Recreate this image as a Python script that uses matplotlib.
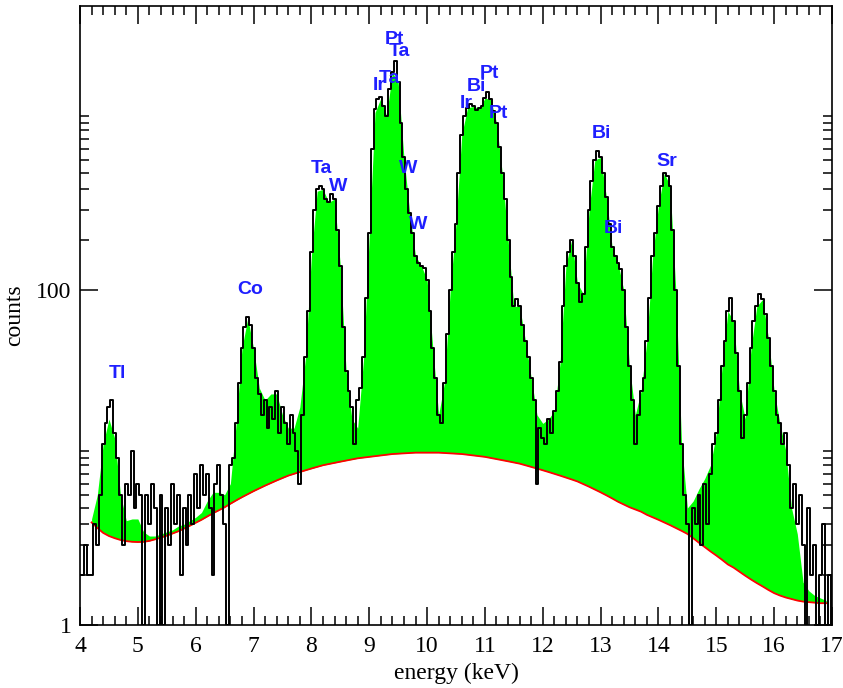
import numpy as np
import matplotlib
matplotlib.use("Agg")
import matplotlib.pyplot as plt
from matplotlib.ticker import FixedLocator, FixedFormatter, MultipleLocator

# measured spectrum, one value every 0.05 keV from 4.00 to 17.00 keV
counts = [
    2, 2, 3, 2, 2, 4, 3, 6, 12, 16, 20, 22, 14, 10, 6, 3, 7, 6, 11, 5,
    7, 6, 1, 6, 4, 7, 5, 1, 6, 1, 5, 3, 7, 4, 6, 2, 5, 3, 6, 4,
    8, 5, 9, 6, 8, 5, 2, 7, 9, 6, 4, 1, 9, 10, 16, 28, 45, 60, 69, 62,
    45, 30, 24, 18, 22, 15, 20, 17, 25, 14, 20, 16, 12, 18, 14, 11, 7, 18, 40, 75,
    170, 300, 400, 420, 400, 350, 335, 375, 350, 230, 140, 60, 33, 25, 20, 12, 22, 26, 40, 90,
    220, 700, 1200, 1380, 1420, 1250, 1100, 1600, 2000, 2330, 1750, 1000, 620, 400, 290, 220, 160, 145, 140, 135,
    115, 75, 45, 30, 18, 16, 28, 55, 100, 170, 250, 500, 850, 1100, 1230, 1290, 1250, 1190, 1220, 1260,
    1400, 1530, 1380, 1180, 1000, 720, 500, 350, 200, 120, 80, 88, 80, 62, 50, 40, 30, 22, 7, 15,
    13, 12, 17, 14, 19, 25, 37, 80, 140, 170, 200, 160, 110, 85, 95, 180, 300, 450, 600, 680,
    620, 500, 360, 250, 180, 160, 145, 134, 100, 60, 35, 22, 12, 18, 25, 30, 50, 90, 160, 220,
    320, 420, 500, 480, 420, 230, 100, 35, 12, 6, 4, 1, 5, 4, 6, 3, 7, 4, 8, 12,
    14, 22, 35, 50, 75, 90, 65, 42, 25, 13, 18, 28, 45, 65, 80, 95, 88, 72, 52, 35,
    25, 18, 16, 12, 14, 9, 5, 7, 4, 6, 3, 1, 5, 2, 3, 1, 2, 4, 1, 2,
    1,
]

# fitted model and background, one value every 0.1 keV from 4.2 to 16.9 keV
fit = [
    4.3, 6, 12, 17, 13, 6, 4.2, 4.3,
    4.3, 3.6, 3.4, 3.4, 3.5, 3.6, 3.7, 3.9, 4.0, 4.2,
    4.4, 4.7, 5.5, 6.2, 6.2, 6.0, 7, 16, 45, 68,
    45, 26, 22, 24, 24, 18, 15, 15, 20, 40,
    160, 390, 400, 335, 350, 140, 33, 17, 15, 38,
    210, 1150, 1400, 1100, 2000, 1750, 620, 290, 160, 140,
    115, 45, 18, 28, 100, 250, 850, 1230, 1250, 1220,
    1400, 1380, 1000, 500, 200, 80, 80, 50, 30, 18,
    16, 17, 19, 37, 140, 200, 110, 95, 300, 600,
    620, 360, 180, 145, 100, 35, 18, 25, 50, 160,
    320, 500, 420, 100, 12, 5, 5.5, 6.5, 7.5, 9,
    14, 35, 75, 65, 25, 17, 45, 80, 88, 52,
    25, 16, 11, 5, 3.5, 1.8, 1.6, 1.5, 1.45, 1.4,
]

background = [
    4.1, 3.8, 3.55, 3.4, 3.3, 3.22, 3.17, 3.14,
    3.13, 3.14, 3.18, 3.25, 3.33, 3.42, 3.52, 3.63, 3.77, 3.92,
    4.08, 4.25, 4.45, 4.65, 4.85, 5.05, 5.3, 5.55, 5.8, 6.05,
    6.3, 6.55, 6.8, 7.05, 7.3, 7.55, 7.8, 8.0, 8.2, 8.4,
    8.6, 8.8, 9.0, 9.15, 9.3, 9.45, 9.6, 9.75, 9.9, 10.0,
    10.1, 10.2, 10.3, 10.4, 10.5, 10.55, 10.6, 10.65, 10.7, 10.7,
    10.7, 10.7, 10.7, 10.65, 10.6, 10.55, 10.5, 10.4, 10.3, 10.2,
    10.1, 9.95, 9.8, 9.65, 9.5, 9.35, 9.2, 9.0, 8.8, 8.6,
    8.4, 8.2, 8.0, 7.8, 7.6, 7.4, 7.2, 6.95, 6.7, 6.45,
    6.2, 5.95, 5.7, 5.45, 5.25, 5.05, 4.9, 4.75, 4.55, 4.4,
    4.25, 4.1, 3.95, 3.8, 3.65, 3.5, 3.3, 3.1, 2.92, 2.75,
    2.6, 2.45, 2.3, 2.2, 2.08, 1.97, 1.87, 1.78, 1.7, 1.62,
    1.55, 1.5, 1.46, 1.43, 1.4, 1.38, 1.37, 1.36, 1.35, 1.35,
]

# element labels: name, energy (keV), counts
label_names = ["Tl", "Co", "Ta", "W", "Ir", "Ta", "Pt", "Ta", "W", "W",
               "Ir", "Bi", "Pt", "Pt", "Bi", "Bi", "Sr"]
label_energy = [4.64, 6.94, 8.17, 8.46, 9.17, 9.35, 9.43, 9.53, 9.67, 9.85,
                10.68, 10.85, 11.08, 11.23, 13.02, 13.23, 14.15]
label_counts = [32, 101, 530, 415, 1680, 1830, 3150, 2650, 530, 245,
                1300, 1640, 1980, 1130, 860, 235, 584]

energy = np.linspace(4.0, 17.0, len(counts))
fit_energy = np.linspace(4.2, 16.9, len(fit))

plt.rcParams["font.family"] = ["Liberation Serif", "DejaVu Serif"]

fig = plt.figure(figsize=(8.43, 6.88), dpi=100)
ax = fig.add_axes([80 / 843, 1 - 625 / 688, 752 / 843, 619.3 / 688])

fit_arr = np.array(fit)
bg_arr = np.array(background)
ax.fill_between(fit_energy, bg_arr, fit_arr, where=fit_arr >= bg_arr,
                interpolate=True, color="#00ff00", linewidth=0, zorder=1)
ax.plot(fit_energy, bg_arr, color="#ff0000", lw=1.3, zorder=2)
ax.plot(energy, counts, drawstyle="steps-mid", color="black", lw=1.4, zorder=3)

for name, e, c in zip(label_names, label_energy, label_counts):
    ax.text(e, c, name, color="#1f1fff", fontsize=14, fontweight="bold",
            family=["Liberation Sans", "DejaVu Sans"], ha="center", va="center",
            zorder=4)

ax.set_yscale("log")
ax.set_xlim(4, 17)
ax.set_ylim(1, 5000)

ax.xaxis.set_major_locator(MultipleLocator(1))
ax.xaxis.set_minor_locator(MultipleLocator(0.2))
ax.yaxis.set_major_locator(FixedLocator([1, 100]))
ax.yaxis.set_major_formatter(FixedFormatter(["1", "100"]))
minor_y = [k for k in range(2, 12)] + [100 * k for k in range(2, 12)]
ax.yaxis.set_minor_locator(FixedLocator(minor_y))
ax.yaxis.set_minor_formatter(FixedFormatter([""] * len(minor_y)))

ax.tick_params(which="both", direction="in", top=True, right=True,
               width=1.1, labelsize=17)
ax.tick_params(which="major", length=13)
ax.tick_params(which="minor", length=6.5)
ax.tick_params(axis="x", pad=8)
ax.tick_params(axis="y", pad=6)
for s in ax.spines.values():
    s.set_linewidth(1.2)

ax.set_xlabel("energy (keV)", fontsize=17, labelpad=4)
ax.set_ylabel("counts", fontsize=17, labelpad=8)

fig.savefig("out.png", dpi=100)
